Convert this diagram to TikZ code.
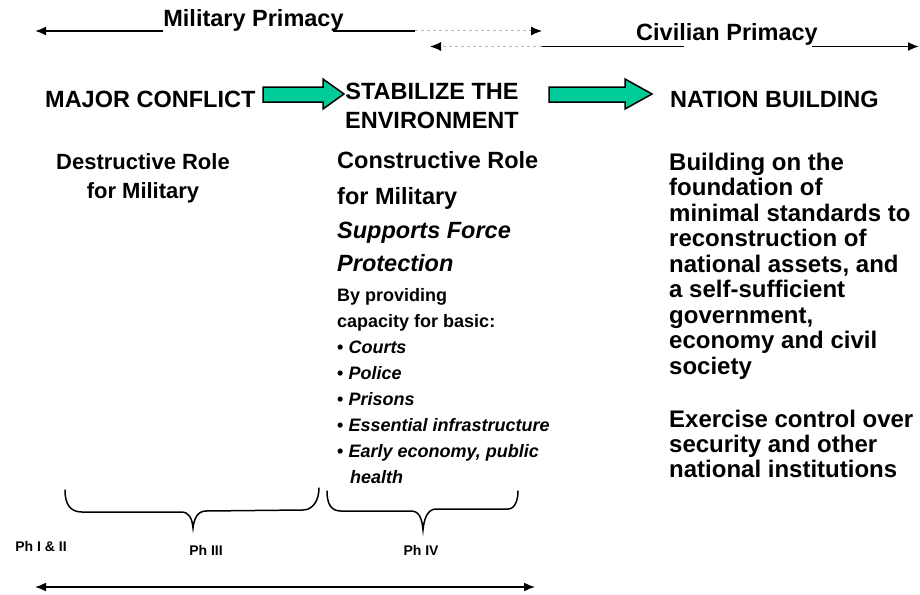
\documentclass[tikz,border=0pt]{standalone}
\usepackage{fontspec}
\setmainfont{Liberation Sans}
\usetikzlibrary{arrows.meta}
\definecolor{arrgreen}{HTML}{00CC99}
\begin{document}
\begin{tikzpicture}[x=1pt,y=-1pt,
  big/.style={font=\fontsize{23.5}{24}\selectfont\bfseries, inner sep=0pt},
  bigit/.style={font=\fontsize{23.5}{24}\selectfont\bfseries\itshape, inner sep=0pt},
  leftcol/.style={font=\fontsize{22}{22}\selectfont\bfseries, inner sep=0pt},
  rightcol/.style={font=\fontsize{24}{24}\selectfont\bfseries, inner sep=0pt},
  small/.style={font=\fontsize{18}{18}\selectfont\bfseries, inner sep=0pt},
  phase/.style={font=\fontsize{14}{14}\selectfont\bfseries, inner sep=0pt},
  solidline/.style={line width=1.8pt, black},
  dashline/.style={line width=1pt, gray!55, dash pattern=on 3pt off 3pt},
  tip/.style={-{Latex[length=11pt,width=9pt,color=black]}},
  bigarrow/.style={draw=black, line width=1.5pt, fill=arrgreen, line join=miter},
  bracestyle/.style={line width=1.5pt, black, line cap=round}]
\useasboundingbox (0,0) rectangle (920,594);

% ---- primacy labels and lines
\node[big, anchor=base] (mil) at (253.5,27) {Military Primacy};
\node[big, anchor=base] (civ) at (727,41) {Civilian Primacy};
\coordinate (mL) at (35,31);
\coordinate (m1) at (333,31);
\coordinate (m2) at (415,31);
\coordinate (m3) at (542,31);
\coordinate (cL) at (430,46.5);
\coordinate (c1) at (542,46.5);
\coordinate (c2) at (684,46.5);
\coordinate (c3) at (812,46.5);
\coordinate (cR) at (919,46.5);
\draw[solidline, tip] (mil.west |- mL) -- (mL);
\draw[solidline] (m1) -- (m2);
\draw[dashline, tip] (m2) -- (m3);
\draw[dashline, tip] (c1) -- (cL);
\draw[solidline] (c1) -- (c2);
\draw[solidline, tip] (c3) -- (cR);

% ---- headers
\node[big, anchor=base west] (maj) at (45,107) {MAJOR CONFLICT};
\node[big, anchor=base] (stab1) at (432,99) {STABILIZE THE};
\node[big, anchor=base] (stab2) at (432,128) {ENVIRONMENT};
\node[big, anchor=base west] (nat) at (670,107) {NATION BUILDING};

% ---- green block arrows
\draw[bigarrow] (263,87) -- (323,87) -- (323,79) -- (344,94) -- (323,109) -- (323,102) -- (263,102) -- cycle;
\draw[bigarrow] (549,87) -- (625,87) -- (625,79) -- (652,94) -- (625,109) -- (625,102) -- (549,102) -- cycle;

% ---- left column
\node[leftcol, anchor=base] (d1) at (143,169) {Destructive Role};
\node[leftcol, anchor=base] (d2) at (143,198) {for Military};

% ---- centre column
\node[big, anchor=base west] (k1) at (337,168) {Constructive Role};
\node[big, anchor=base west] (k2) at (337,204) {for Military};
\node[bigit, anchor=base west] (k3) at (337,238) {Supports Force};
\node[bigit, anchor=base west] (k4) at (337,271) {Protection};
\node[small, anchor=base west] (s1) at (337,301) {By providing};
\node[small, anchor=base west] (s2) at (337,327) {capacity for basic:};
\node[small, anchor=base west] (s3) at (337,353) {• \itshape Courts};
\node[small, anchor=base west] (s4) at (337,379) {• \itshape Police};
\node[small, anchor=base west] (s5) at (337,405) {• \itshape Prisons};
\node[small, anchor=base west] (s6) at (337,431) {• \itshape Essential infrastructure};
\node[small, anchor=base west] (s7) at (337,457) {• \itshape Early economy, public};
\node[small, anchor=base west] (s8) at (350,483) {\itshape health};

% ---- right column
\node[rightcol, anchor=base west] (r1) at (669,170) {Building on the};
\node[rightcol, anchor=base west] (r2) at (669,195.5) {foundation of};
\node[rightcol, anchor=base west] (r3) at (669,221) {minimal standards to};
\node[rightcol, anchor=base west] (r4) at (669,246.5) {reconstruction of};
\node[rightcol, anchor=base west] (r5) at (669,272) {national assets, and};
\node[rightcol, anchor=base west] (r6) at (669,297.5) {a self-sufficient};
\node[rightcol, anchor=base west] (r7) at (669,323) {government,};
\node[rightcol, anchor=base west] (r8) at (669,348.5) {economy and civil};
\node[rightcol, anchor=base west] (r9) at (669,374) {society};
\node[rightcol, anchor=base west] (r10) at (669,427) {Exercise control over};
\node[rightcol, anchor=base west] (r11) at (669,452) {security and other};
\node[rightcol, anchor=base west] (r12) at (669,477) {national institutions};

% ---- braces
\draw[bracestyle] (65,490) .. controls (65,504) and (70,512) .. (82,512) -- (181,512)
  .. controls (189,512) and (192,518) .. (193,528)
  .. controls (194,518) and (198,511) .. (206,511) -- (303,510)
  .. controls (313,510) and (319,500) .. (319,488);
\draw[bracestyle] (327,491) .. controls (327,504) and (331,511) .. (341,511) -- (411,511)
  .. controls (419,511) and (422,518) .. (423,530)
  .. controls (424,518) and (428,509) .. (436,509) -- (508,509)
  .. controls (515,509) and (518,500) .. (518,491);

% ---- phase labels
\node[phase] (p12) at (41,546) {Ph I \& II};
\node[phase] (p3) at (206,550) {Ph III};
\node[phase] (p4) at (421,550) {Ph IV};

% ---- bottom double arrow
\coordinate (bL) at (35,587);
\coordinate (bR) at (535,587);
\draw[line width=1.6pt, {Latex[length=11pt,width=9pt]}-{Latex[length=11pt,width=9pt]}] (bL) -- (bR);
\end{tikzpicture}
\end{document}
